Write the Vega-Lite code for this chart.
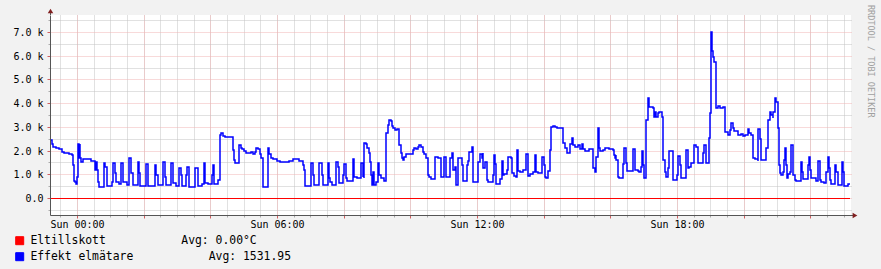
{
  "$schema": "https://vega.github.io/schema/vega-lite/v6.json",
  "width": 801,
  "height": 200,
  "autosize": {"type": "none"},
  "padding": {"left": 50, "top": 15, "right": 30, "bottom": 54},
  "background": "#F2F2F2",
  "config": {
    "font": "DejaVu Sans Mono",
    "view": {"stroke": null, "fill": "#FFFFFF"},
    "axis": {"labelFont": "DejaVu Sans Mono", "labelColor": "#000000", "title": null}
  },
  "title": {
    "text": "RRDTOOL / TOBI OETIKER",
    "orient": "right",
    "anchor": "start",
    "frame": "group",
    "angle": 90,
    "font": "DejaVu Sans Mono",
    "fontSize": 8.5,
    "fontWeight": "normal",
    "color": "#A0A0A0",
    "offset": 9,
    "dx": -10
  },
  "datasets": {
    "elt": [
      {"t": "2024-01-06T23:13", "v": 0},
      {"t": "2024-01-07T23:11", "v": 0}
    ],
    "effekt": [
      {"t": "2024-01-06T23:13", "v": 2450},
      {"t": "2024-01-06T23:15", "v": 2270},
      {"t": "2024-01-06T23:16", "v": 2140},
      {"t": "2024-01-06T23:23", "v": 2100},
      {"t": "2024-01-06T23:27", "v": 2050},
      {"t": "2024-01-06T23:33", "v": 1950},
      {"t": "2024-01-06T23:37", "v": 1880},
      {"t": "2024-01-06T23:45", "v": 1860},
      {"t": "2024-01-06T23:51", "v": 1810},
      {"t": "2024-01-06T23:53", "v": 1390},
      {"t": "2024-01-06T23:55", "v": 720},
      {"t": "2024-01-06T23:57", "v": 660},
      {"t": "2024-01-06T23:59", "v": 580},
      {"t": "2024-01-07T00:00", "v": 900},
      {"t": "2024-01-07T00:02", "v": 2270},
      {"t": "2024-01-07T00:04", "v": 1670},
      {"t": "2024-01-07T00:05", "v": 2270},
      {"t": "2024-01-07T00:06", "v": 1670},
      {"t": "2024-01-07T00:08", "v": 1530},
      {"t": "2024-01-07T00:10", "v": 1650},
      {"t": "2024-01-07T00:26", "v": 1560},
      {"t": "2024-01-07T00:32", "v": 1500},
      {"t": "2024-01-07T00:33", "v": 1180},
      {"t": "2024-01-07T00:34", "v": 1500},
      {"t": "2024-01-07T00:36", "v": 1180},
      {"t": "2024-01-07T00:37", "v": 660},
      {"t": "2024-01-07T00:39", "v": 450},
      {"t": "2024-01-07T00:49", "v": 1460},
      {"t": "2024-01-07T00:51", "v": 1320},
      {"t": "2024-01-07T00:54", "v": 520},
      {"t": "2024-01-07T01:03", "v": 660},
      {"t": "2024-01-07T01:05", "v": 1460},
      {"t": "2024-01-07T01:08", "v": 1040},
      {"t": "2024-01-07T01:11", "v": 660},
      {"t": "2024-01-07T01:15", "v": 580},
      {"t": "2024-01-07T01:20", "v": 1460},
      {"t": "2024-01-07T01:22", "v": 660},
      {"t": "2024-01-07T01:30", "v": 550},
      {"t": "2024-01-07T01:34", "v": 1670},
      {"t": "2024-01-07T01:38", "v": 1040},
      {"t": "2024-01-07T01:41", "v": 550},
      {"t": "2024-01-07T01:50", "v": 1530},
      {"t": "2024-01-07T01:52", "v": 1040},
      {"t": "2024-01-07T01:54", "v": 520},
      {"t": "2024-01-07T02:04", "v": 1430},
      {"t": "2024-01-07T02:07", "v": 970},
      {"t": "2024-01-07T02:08", "v": 520},
      {"t": "2024-01-07T02:20", "v": 1390},
      {"t": "2024-01-07T02:22", "v": 970},
      {"t": "2024-01-07T02:25", "v": 550},
      {"t": "2024-01-07T02:35", "v": 1530},
      {"t": "2024-01-07T02:38", "v": 900},
      {"t": "2024-01-07T02:41", "v": 550},
      {"t": "2024-01-07T02:50", "v": 1460},
      {"t": "2024-01-07T02:52", "v": 620},
      {"t": "2024-01-07T02:59", "v": 520},
      {"t": "2024-01-07T03:04", "v": 1280},
      {"t": "2024-01-07T03:07", "v": 970},
      {"t": "2024-01-07T03:09", "v": 520},
      {"t": "2024-01-07T03:16", "v": 970},
      {"t": "2024-01-07T03:18", "v": 1320},
      {"t": "2024-01-07T03:21", "v": 660},
      {"t": "2024-01-07T03:22", "v": 450},
      {"t": "2024-01-07T03:33", "v": 1280},
      {"t": "2024-01-07T03:37", "v": 520},
      {"t": "2024-01-07T03:45", "v": 580},
      {"t": "2024-01-07T03:49", "v": 1460},
      {"t": "2024-01-07T03:51", "v": 620},
      {"t": "2024-01-07T03:56", "v": 580},
      {"t": "2024-01-07T04:03", "v": 970},
      {"t": "2024-01-07T04:05", "v": 1390},
      {"t": "2024-01-07T04:07", "v": 580},
      {"t": "2024-01-07T04:14", "v": 760},
      {"t": "2024-01-07T04:17", "v": 2660},
      {"t": "2024-01-07T04:20", "v": 2730},
      {"t": "2024-01-07T04:23", "v": 2630},
      {"t": "2024-01-07T04:26", "v": 2560},
      {"t": "2024-01-07T04:40", "v": 2030},
      {"t": "2024-01-07T04:43", "v": 1600},
      {"t": "2024-01-07T04:45", "v": 1460},
      {"t": "2024-01-07T04:51", "v": 2240},
      {"t": "2024-01-07T04:55", "v": 2100},
      {"t": "2024-01-07T04:57", "v": 2050},
      {"t": "2024-01-07T05:00", "v": 1980},
      {"t": "2024-01-07T05:05", "v": 1880},
      {"t": "2024-01-07T05:14", "v": 1950},
      {"t": "2024-01-07T05:16", "v": 1840},
      {"t": "2024-01-07T05:20", "v": 1950},
      {"t": "2024-01-07T05:22", "v": 2100},
      {"t": "2024-01-07T05:26", "v": 2050},
      {"t": "2024-01-07T05:29", "v": 1840},
      {"t": "2024-01-07T05:32", "v": 1670},
      {"t": "2024-01-07T05:34", "v": 480},
      {"t": "2024-01-07T05:44", "v": 2100},
      {"t": "2024-01-07T05:46", "v": 1840},
      {"t": "2024-01-07T05:49", "v": 1670},
      {"t": "2024-01-07T05:52", "v": 1650},
      {"t": "2024-01-07T06:00", "v": 1560},
      {"t": "2024-01-07T06:06", "v": 1510},
      {"t": "2024-01-07T06:21", "v": 1560},
      {"t": "2024-01-07T06:28", "v": 1650},
      {"t": "2024-01-07T06:40", "v": 1560},
      {"t": "2024-01-07T06:46", "v": 1390},
      {"t": "2024-01-07T06:49", "v": 1180},
      {"t": "2024-01-07T06:51", "v": 520},
      {"t": "2024-01-07T07:01", "v": 1460},
      {"t": "2024-01-07T07:04", "v": 970},
      {"t": "2024-01-07T07:06", "v": 550},
      {"t": "2024-01-07T07:16", "v": 1460},
      {"t": "2024-01-07T07:21", "v": 970},
      {"t": "2024-01-07T07:22", "v": 550},
      {"t": "2024-01-07T07:31", "v": 1460},
      {"t": "2024-01-07T07:34", "v": 830},
      {"t": "2024-01-07T07:35", "v": 690},
      {"t": "2024-01-07T07:39", "v": 550},
      {"t": "2024-01-07T07:46", "v": 1530},
      {"t": "2024-01-07T07:49", "v": 1320},
      {"t": "2024-01-07T07:51", "v": 620},
      {"t": "2024-01-07T07:58", "v": 970},
      {"t": "2024-01-07T08:01", "v": 1420},
      {"t": "2024-01-07T08:04", "v": 830},
      {"t": "2024-01-07T08:06", "v": 720},
      {"t": "2024-01-07T08:16", "v": 1650},
      {"t": "2024-01-07T08:19", "v": 900},
      {"t": "2024-01-07T08:24", "v": 860},
      {"t": "2024-01-07T08:32", "v": 1460},
      {"t": "2024-01-07T08:34", "v": 900},
      {"t": "2024-01-07T08:35", "v": 1460},
      {"t": "2024-01-07T08:36", "v": 860},
      {"t": "2024-01-07T08:37", "v": 2310},
      {"t": "2024-01-07T08:40", "v": 2260},
      {"t": "2024-01-07T08:42", "v": 2100},
      {"t": "2024-01-07T08:45", "v": 1880},
      {"t": "2024-01-07T08:47", "v": 1530},
      {"t": "2024-01-07T08:49", "v": 970},
      {"t": "2024-01-07T08:51", "v": 550},
      {"t": "2024-01-07T08:53", "v": 1110},
      {"t": "2024-01-07T08:55", "v": 550},
      {"t": "2024-01-07T08:58", "v": 660},
      {"t": "2024-01-07T09:01", "v": 1460},
      {"t": "2024-01-07T09:04", "v": 990},
      {"t": "2024-01-07T09:07", "v": 830},
      {"t": "2024-01-07T09:13", "v": 720},
      {"t": "2024-01-07T09:16", "v": 2730},
      {"t": "2024-01-07T09:19", "v": 3080},
      {"t": "2024-01-07T09:22", "v": 3290},
      {"t": "2024-01-07T09:25", "v": 3250},
      {"t": "2024-01-07T09:27", "v": 3050},
      {"t": "2024-01-07T09:29", "v": 2940},
      {"t": "2024-01-07T09:33", "v": 2870},
      {"t": "2024-01-07T09:36", "v": 2900},
      {"t": "2024-01-07T09:39", "v": 2800},
      {"t": "2024-01-07T09:40", "v": 2240},
      {"t": "2024-01-07T09:43", "v": 1880},
      {"t": "2024-01-07T09:45", "v": 1700},
      {"t": "2024-01-07T09:46", "v": 1600},
      {"t": "2024-01-07T09:48", "v": 1740},
      {"t": "2024-01-07T09:52", "v": 1840},
      {"t": "2024-01-07T10:04", "v": 2030},
      {"t": "2024-01-07T10:07", "v": 2100},
      {"t": "2024-01-07T10:10", "v": 2070},
      {"t": "2024-01-07T10:13", "v": 2170},
      {"t": "2024-01-07T10:16", "v": 2240},
      {"t": "2024-01-07T10:19", "v": 2170},
      {"t": "2024-01-07T10:22", "v": 1930},
      {"t": "2024-01-07T10:25", "v": 1840},
      {"t": "2024-01-07T10:28", "v": 1670},
      {"t": "2024-01-07T10:31", "v": 970},
      {"t": "2024-01-07T10:34", "v": 900},
      {"t": "2024-01-07T10:37", "v": 790},
      {"t": "2024-01-07T10:44", "v": 1740},
      {"t": "2024-01-07T10:49", "v": 1700},
      {"t": "2024-01-07T10:55", "v": 900},
      {"t": "2024-01-07T11:01", "v": 1740},
      {"t": "2024-01-07T11:04", "v": 900},
      {"t": "2024-01-07T11:11", "v": 1670},
      {"t": "2024-01-07T11:15", "v": 1880},
      {"t": "2024-01-07T11:17", "v": 1180},
      {"t": "2024-01-07T11:20", "v": 1320},
      {"t": "2024-01-07T11:22", "v": 550},
      {"t": "2024-01-07T11:26", "v": 1700},
      {"t": "2024-01-07T11:33", "v": 1390},
      {"t": "2024-01-07T11:34", "v": 720},
      {"t": "2024-01-07T11:42", "v": 1390},
      {"t": "2024-01-07T11:44", "v": 1560},
      {"t": "2024-01-07T11:46", "v": 1950},
      {"t": "2024-01-07T11:51", "v": 2170},
      {"t": "2024-01-07T11:52", "v": 1740},
      {"t": "2024-01-07T11:53", "v": 690},
      {"t": "2024-01-07T12:02", "v": 1530},
      {"t": "2024-01-07T12:05", "v": 1840},
      {"t": "2024-01-07T12:09", "v": 1700},
      {"t": "2024-01-07T12:10", "v": 1880},
      {"t": "2024-01-07T12:11", "v": 1250},
      {"t": "2024-01-07T12:14", "v": 1510},
      {"t": "2024-01-07T12:18", "v": 760},
      {"t": "2024-01-07T12:20", "v": 660},
      {"t": "2024-01-07T12:28", "v": 970},
      {"t": "2024-01-07T12:31", "v": 1810},
      {"t": "2024-01-07T12:32", "v": 1420},
      {"t": "2024-01-07T12:34", "v": 590},
      {"t": "2024-01-07T12:41", "v": 800},
      {"t": "2024-01-07T12:45", "v": 1560},
      {"t": "2024-01-07T12:46", "v": 970},
      {"t": "2024-01-07T12:49", "v": 1000},
      {"t": "2024-01-07T12:54", "v": 1180},
      {"t": "2024-01-07T12:56", "v": 1740},
      {"t": "2024-01-07T13:01", "v": 1700},
      {"t": "2024-01-07T13:03", "v": 1040},
      {"t": "2024-01-07T13:07", "v": 940},
      {"t": "2024-01-07T13:10", "v": 900},
      {"t": "2024-01-07T13:12", "v": 2030},
      {"t": "2024-01-07T13:14", "v": 1140},
      {"t": "2024-01-07T13:17", "v": 1080},
      {"t": "2024-01-07T13:23", "v": 1180},
      {"t": "2024-01-07T13:28", "v": 1840},
      {"t": "2024-01-07T13:31", "v": 1040},
      {"t": "2024-01-07T13:32", "v": 940},
      {"t": "2024-01-07T13:35", "v": 1000},
      {"t": "2024-01-07T13:41", "v": 1080},
      {"t": "2024-01-07T13:44", "v": 1810},
      {"t": "2024-01-07T13:46", "v": 1080},
      {"t": "2024-01-07T13:49", "v": 1040},
      {"t": "2024-01-07T13:57", "v": 1740},
      {"t": "2024-01-07T14:01", "v": 1390},
      {"t": "2024-01-07T14:02", "v": 900},
      {"t": "2024-01-07T14:04", "v": 830},
      {"t": "2024-01-07T14:07", "v": 970},
      {"t": "2024-01-07T14:08", "v": 1140},
      {"t": "2024-01-07T14:11", "v": 2030},
      {"t": "2024-01-07T14:13", "v": 3010},
      {"t": "2024-01-07T14:17", "v": 3050},
      {"t": "2024-01-07T14:20", "v": 3010},
      {"t": "2024-01-07T14:24", "v": 2970},
      {"t": "2024-01-07T14:35", "v": 2310},
      {"t": "2024-01-07T14:38", "v": 2120},
      {"t": "2024-01-07T14:42", "v": 1880},
      {"t": "2024-01-07T14:47", "v": 2270},
      {"t": "2024-01-07T14:51", "v": 2520},
      {"t": "2024-01-07T14:52", "v": 2240},
      {"t": "2024-01-07T14:56", "v": 2170},
      {"t": "2024-01-07T15:02", "v": 2240},
      {"t": "2024-01-07T15:05", "v": 2070},
      {"t": "2024-01-07T15:09", "v": 2270},
      {"t": "2024-01-07T15:11", "v": 2070},
      {"t": "2024-01-07T15:14", "v": 1980},
      {"t": "2024-01-07T15:22", "v": 2050},
      {"t": "2024-01-07T15:28", "v": 1950},
      {"t": "2024-01-07T15:29", "v": 1250},
      {"t": "2024-01-07T15:32", "v": 1110},
      {"t": "2024-01-07T15:35", "v": 1740},
      {"t": "2024-01-07T15:37", "v": 2940},
      {"t": "2024-01-07T15:39", "v": 2100},
      {"t": "2024-01-07T15:41", "v": 1980},
      {"t": "2024-01-07T15:46", "v": 2030},
      {"t": "2024-01-07T15:50", "v": 2100},
      {"t": "2024-01-07T15:58", "v": 2070},
      {"t": "2024-01-07T16:04", "v": 2030},
      {"t": "2024-01-07T16:07", "v": 1810},
      {"t": "2024-01-07T16:08", "v": 1670},
      {"t": "2024-01-07T16:10", "v": 1810},
      {"t": "2024-01-07T16:11", "v": 1600},
      {"t": "2024-01-07T16:13", "v": 900},
      {"t": "2024-01-07T16:16", "v": 830},
      {"t": "2024-01-07T16:23", "v": 1420},
      {"t": "2024-01-07T16:25", "v": 2100},
      {"t": "2024-01-07T16:28", "v": 1460},
      {"t": "2024-01-07T16:30", "v": 1140},
      {"t": "2024-01-07T16:40", "v": 2070},
      {"t": "2024-01-07T16:44", "v": 1180},
      {"t": "2024-01-07T16:49", "v": 1140},
      {"t": "2024-01-07T16:52", "v": 1080},
      {"t": "2024-01-07T16:55", "v": 1320},
      {"t": "2024-01-07T16:57", "v": 1980},
      {"t": "2024-01-07T16:59", "v": 1390},
      {"t": "2024-01-07T17:01", "v": 860},
      {"t": "2024-01-07T17:04", "v": 3080},
      {"t": "2024-01-07T17:05", "v": 3290},
      {"t": "2024-01-07T17:07", "v": 3780},
      {"t": "2024-01-07T17:08", "v": 4210},
      {"t": "2024-01-07T17:10", "v": 3850},
      {"t": "2024-01-07T17:16", "v": 3780},
      {"t": "2024-01-07T17:19", "v": 3430},
      {"t": "2024-01-07T17:20", "v": 3640},
      {"t": "2024-01-07T17:22", "v": 3400},
      {"t": "2024-01-07T17:25", "v": 3570},
      {"t": "2024-01-07T17:28", "v": 3610},
      {"t": "2024-01-07T17:31", "v": 3640},
      {"t": "2024-01-07T17:33", "v": 3430},
      {"t": "2024-01-07T17:35", "v": 1600},
      {"t": "2024-01-07T17:38", "v": 1110},
      {"t": "2024-01-07T17:40", "v": 900},
      {"t": "2024-01-07T17:43", "v": 1250},
      {"t": "2024-01-07T17:46", "v": 1980},
      {"t": "2024-01-07T17:52", "v": 1700},
      {"t": "2024-01-07T17:53", "v": 760},
      {"t": "2024-01-07T18:00", "v": 970},
      {"t": "2024-01-07T18:02", "v": 1790},
      {"t": "2024-01-07T18:05", "v": 1390},
      {"t": "2024-01-07T18:08", "v": 830},
      {"t": "2024-01-07T18:16", "v": 2030},
      {"t": "2024-01-07T18:19", "v": 1250},
      {"t": "2024-01-07T18:22", "v": 1320},
      {"t": "2024-01-07T18:25", "v": 1460},
      {"t": "2024-01-07T18:31", "v": 2240},
      {"t": "2024-01-07T18:34", "v": 2170},
      {"t": "2024-01-07T18:37", "v": 1460},
      {"t": "2024-01-07T18:47", "v": 1880},
      {"t": "2024-01-07T18:49", "v": 2240},
      {"t": "2024-01-07T18:52", "v": 1460},
      {"t": "2024-01-07T18:58", "v": 2520},
      {"t": "2024-01-07T18:59", "v": 3570},
      {"t": "2024-01-07T19:02", "v": 7000},
      {"t": "2024-01-07T19:03", "v": 6200},
      {"t": "2024-01-07T19:04", "v": 5960},
      {"t": "2024-01-07T19:07", "v": 5750},
      {"t": "2024-01-07T19:10", "v": 3780},
      {"t": "2024-01-07T19:14", "v": 3880},
      {"t": "2024-01-07T19:17", "v": 3810},
      {"t": "2024-01-07T19:23", "v": 3850},
      {"t": "2024-01-07T19:27", "v": 2800},
      {"t": "2024-01-07T19:31", "v": 2660},
      {"t": "2024-01-07T19:35", "v": 2870},
      {"t": "2024-01-07T19:38", "v": 3150},
      {"t": "2024-01-07T19:40", "v": 2970},
      {"t": "2024-01-07T19:43", "v": 2830},
      {"t": "2024-01-07T19:50", "v": 2660},
      {"t": "2024-01-07T19:56", "v": 2690},
      {"t": "2024-01-07T19:59", "v": 2620},
      {"t": "2024-01-07T20:02", "v": 2660},
      {"t": "2024-01-07T20:07", "v": 2900},
      {"t": "2024-01-07T20:09", "v": 2750},
      {"t": "2024-01-07T20:13", "v": 2660},
      {"t": "2024-01-07T20:16", "v": 2590},
      {"t": "2024-01-07T20:17", "v": 1700},
      {"t": "2024-01-07T20:20", "v": 1640},
      {"t": "2024-01-07T20:25", "v": 1560},
      {"t": "2024-01-07T20:26", "v": 2900},
      {"t": "2024-01-07T20:29", "v": 2500},
      {"t": "2024-01-07T20:31", "v": 1600},
      {"t": "2024-01-07T20:41", "v": 2100},
      {"t": "2024-01-07T20:43", "v": 2690},
      {"t": "2024-01-07T20:44", "v": 3290},
      {"t": "2024-01-07T20:47", "v": 3640},
      {"t": "2024-01-07T20:50", "v": 3500},
      {"t": "2024-01-07T20:52", "v": 3360},
      {"t": "2024-01-07T20:53", "v": 3640},
      {"t": "2024-01-07T20:56", "v": 4210},
      {"t": "2024-01-07T20:59", "v": 4060},
      {"t": "2024-01-07T21:01", "v": 3360},
      {"t": "2024-01-07T21:02", "v": 2940},
      {"t": "2024-01-07T21:04", "v": 1390},
      {"t": "2024-01-07T21:05", "v": 1040},
      {"t": "2024-01-07T21:08", "v": 970},
      {"t": "2024-01-07T21:11", "v": 1080},
      {"t": "2024-01-07T21:13", "v": 1600},
      {"t": "2024-01-07T21:14", "v": 2100},
      {"t": "2024-01-07T21:16", "v": 1390},
      {"t": "2024-01-07T21:18", "v": 840},
      {"t": "2024-01-07T21:20", "v": 1000},
      {"t": "2024-01-07T21:23", "v": 1110},
      {"t": "2024-01-07T21:26", "v": 2240},
      {"t": "2024-01-07T21:29", "v": 970},
      {"t": "2024-01-07T21:32", "v": 760},
      {"t": "2024-01-07T21:35", "v": 720},
      {"t": "2024-01-07T21:43", "v": 1530},
      {"t": "2024-01-07T21:45", "v": 1110},
      {"t": "2024-01-07T21:47", "v": 790},
      {"t": "2024-01-07T21:56", "v": 1390},
      {"t": "2024-01-07T21:57", "v": 1740},
      {"t": "2024-01-07T21:59", "v": 1180},
      {"t": "2024-01-07T22:02", "v": 840},
      {"t": "2024-01-07T22:11", "v": 720},
      {"t": "2024-01-07T22:14", "v": 1560},
      {"t": "2024-01-07T22:17", "v": 760},
      {"t": "2024-01-07T22:20", "v": 690},
      {"t": "2024-01-07T22:25", "v": 650},
      {"t": "2024-01-07T22:29", "v": 1110},
      {"t": "2024-01-07T22:31", "v": 1740},
      {"t": "2024-01-07T22:33", "v": 1250},
      {"t": "2024-01-07T22:35", "v": 760},
      {"t": "2024-01-07T22:38", "v": 580},
      {"t": "2024-01-07T22:44", "v": 1390},
      {"t": "2024-01-07T22:46", "v": 1080},
      {"t": "2024-01-07T22:49", "v": 550},
      {"t": "2024-01-07T22:57", "v": 1530},
      {"t": "2024-01-07T22:59", "v": 1080},
      {"t": "2024-01-07T23:01", "v": 510},
      {"t": "2024-01-07T23:08", "v": 580},
      {"t": "2024-01-07T23:11", "v": 600}
    ]
  },
  "layer": [
    {
      "data": {"name": "elt"},
      "mark": {"type": "line", "strokeWidth": 1, "interpolate": "linear", "yOffset": 0.5},
      "encoding": {
        "x": {
          "field": "t", "type": "temporal",
          "scale": {"round": true, "domain": [{"year": 2024, "month": 1, "date": 6, "hours": 23, "minutes": 11, "seconds": 24}, {"year": 2024, "month": 1, "date": 7, "hours": 23, "minutes": 13, "seconds": 12}]},
          "axis": {"orient": "bottom", "values": [
            {"year": 2024, "month": 1, "date": 6, "hours": 23, "minutes": 30},
            {"year": 2024, "month": 1, "date": 7, "hours": 0, "minutes": 0},
            {"year": 2024, "month": 1, "date": 7, "hours": 0, "minutes": 30},
            {"year": 2024, "month": 1, "date": 7, "hours": 1, "minutes": 0},
            {"year": 2024, "month": 1, "date": 7, "hours": 1, "minutes": 30},
            {"year": 2024, "month": 1, "date": 7, "hours": 2, "minutes": 0},
            {"year": 2024, "month": 1, "date": 7, "hours": 2, "minutes": 30},
            {"year": 2024, "month": 1, "date": 7, "hours": 3, "minutes": 0},
            {"year": 2024, "month": 1, "date": 7, "hours": 3, "minutes": 30},
            {"year": 2024, "month": 1, "date": 7, "hours": 4, "minutes": 0},
            {"year": 2024, "month": 1, "date": 7, "hours": 4, "minutes": 30},
            {"year": 2024, "month": 1, "date": 7, "hours": 5, "minutes": 0},
            {"year": 2024, "month": 1, "date": 7, "hours": 5, "minutes": 30},
            {"year": 2024, "month": 1, "date": 7, "hours": 6, "minutes": 0},
            {"year": 2024, "month": 1, "date": 7, "hours": 6, "minutes": 30},
            {"year": 2024, "month": 1, "date": 7, "hours": 7, "minutes": 0},
            {"year": 2024, "month": 1, "date": 7, "hours": 7, "minutes": 30},
            {"year": 2024, "month": 1, "date": 7, "hours": 8, "minutes": 0},
            {"year": 2024, "month": 1, "date": 7, "hours": 8, "minutes": 30},
            {"year": 2024, "month": 1, "date": 7, "hours": 9, "minutes": 0},
            {"year": 2024, "month": 1, "date": 7, "hours": 9, "minutes": 30},
            {"year": 2024, "month": 1, "date": 7, "hours": 10, "minutes": 0},
            {"year": 2024, "month": 1, "date": 7, "hours": 10, "minutes": 30},
            {"year": 2024, "month": 1, "date": 7, "hours": 11, "minutes": 0},
            {"year": 2024, "month": 1, "date": 7, "hours": 11, "minutes": 30},
            {"year": 2024, "month": 1, "date": 7, "hours": 12, "minutes": 0},
            {"year": 2024, "month": 1, "date": 7, "hours": 12, "minutes": 30},
            {"year": 2024, "month": 1, "date": 7, "hours": 13, "minutes": 0},
            {"year": 2024, "month": 1, "date": 7, "hours": 13, "minutes": 30},
            {"year": 2024, "month": 1, "date": 7, "hours": 14, "minutes": 0},
            {"year": 2024, "month": 1, "date": 7, "hours": 14, "minutes": 30},
            {"year": 2024, "month": 1, "date": 7, "hours": 15, "minutes": 0},
            {"year": 2024, "month": 1, "date": 7, "hours": 15, "minutes": 30},
            {"year": 2024, "month": 1, "date": 7, "hours": 16, "minutes": 0},
            {"year": 2024, "month": 1, "date": 7, "hours": 16, "minutes": 30},
            {"year": 2024, "month": 1, "date": 7, "hours": 17, "minutes": 0},
            {"year": 2024, "month": 1, "date": 7, "hours": 17, "minutes": 30},
            {"year": 2024, "month": 1, "date": 7, "hours": 18, "minutes": 0},
            {"year": 2024, "month": 1, "date": 7, "hours": 18, "minutes": 30},
            {"year": 2024, "month": 1, "date": 7, "hours": 19, "minutes": 0},
            {"year": 2024, "month": 1, "date": 7, "hours": 19, "minutes": 30},
            {"year": 2024, "month": 1, "date": 7, "hours": 20, "minutes": 0},
            {"year": 2024, "month": 1, "date": 7, "hours": 20, "minutes": 30},
            {"year": 2024, "month": 1, "date": 7, "hours": 21, "minutes": 0},
            {"year": 2024, "month": 1, "date": 7, "hours": 21, "minutes": 30},
            {"year": 2024, "month": 1, "date": 7, "hours": 22, "minutes": 0},
            {"year": 2024, "month": 1, "date": 7, "hours": 22, "minutes": 30},
            {"year": 2024, "month": 1, "date": 7, "hours": 23, "minutes": 0}
          ], "grid": true, "gridColor": "#C2C2C2", "gridDash": [1, 1], "labels": false, "domain": false, "ticks": true, "tickColor": "#ABABAB", "tickSize": 2, "title": null}
        },
        "y": {
          "field": "v", "type": "quantitative",
          "scale": {"round": true, "domain": [-717, 7717], "nice": false, "zero": false},
          "axis": {"orient": "left", "values": [-500, 500, 1500, 2500, 3500, 4500, 5500, 6500, 7500], "grid": true, "gridColor": "#C2C2C2", "gridDash": [1, 1], "labels": false, "domain": false, "ticks": true, "tickColor": "#ABABAB", "tickSize": 2, "title": null}
        },
        "color": {
          "datum": "Eltillskott", "type": "nominal",
          "scale": {"domain": ["Eltillskott", "Effekt elmätare"], "range": ["#FF0000", "#0000FF"]},
          "legend": {
            "orient": "none", "legendX": -36, "legendY": 220, "title": null, "direction": "vertical",
            "padding": 0, "symbolType": "square", "symbolSize": 64, "symbolStrokeWidth": 1,
            "labelFont": "DejaVu Sans Mono", "labelFontSize": 11.4, "labelColor": "#000000", "labelOffset": 5,
            "labelLimit": 500, "rowPadding": 3,
            "labelExpr": "datum.label == 'Eltillskott' ? 'Eltillskott\u00a0\u00a0\u00a0\u00a0\u00a0\u00a0\u00a0\u00a0\u00a0\u00a0\u00a0Avg: 0.00°C' : 'Effekt elmätare\u00a0\u00a0\u00a0\u00a0\u00a0\u00a0\u00a0\u00a0\u00a0\u00a0\u00a0Avg: 1531.95'",
            "encode": {"symbols": {"update": {"fill": {"scale": "color", "field": "value"}, "stroke": {"value": "#000000"}, "strokeWidth": {"value": 1}, "opacity": {"value": 1}}}}
          }
        }
      }
    },
    {
      "data": {"name": "effekt"},
      "mark": {"type": "line", "strokeWidth": 1.5, "interpolate": "step-after"},
      "encoding": {
        "x": {
          "field": "t", "type": "temporal",
          "scale": {"round": true, "domain": [{"year": 2024, "month": 1, "date": 6, "hours": 23, "minutes": 11, "seconds": 24}, {"year": 2024, "month": 1, "date": 7, "hours": 23, "minutes": 13, "seconds": 12}]},
          "axis": {"orient": "bottom", "values": [
            {"year": 2024, "month": 1, "date": 7, "hours": 0},
            {"year": 2024, "month": 1, "date": 7, "hours": 2},
            {"year": 2024, "month": 1, "date": 7, "hours": 4},
            {"year": 2024, "month": 1, "date": 7, "hours": 6},
            {"year": 2024, "month": 1, "date": 7, "hours": 8},
            {"year": 2024, "month": 1, "date": 7, "hours": 10},
            {"year": 2024, "month": 1, "date": 7, "hours": 12},
            {"year": 2024, "month": 1, "date": 7, "hours": 14},
            {"year": 2024, "month": 1, "date": 7, "hours": 16},
            {"year": 2024, "month": 1, "date": 7, "hours": 18},
            {"year": 2024, "month": 1, "date": 7, "hours": 20},
            {"year": 2024, "month": 1, "date": 7, "hours": 22}
          ], "grid": true, "gridColor": "#F0B4B4", "gridDash": [1, 1], "domain": true, "domainColor": "#555555", "ticks": true, "tickColor": "#D06060", "tickSize": 3, "labelFontSize": 10, "labelPadding": 1, "labelOverlap": false, "labelFlush": false, "labelExpr": "hours(datum.value) % 6 == 0 ? timeFormat(datum.value, '%a %H:%M') : ''", "title": null}
        },
        "y": {
          "field": "v", "type": "quantitative",
          "scale": {"round": true, "domain": [-717, 7717], "nice": false, "zero": false},
          "axis": {"orient": "left", "values": [0, 1000, 2000, 3000, 4000, 5000, 6000, 7000], "grid": true, "gridColor": "#F0B4B4", "gridDash": [1, 1], "domain": true, "domainColor": "#555555", "ticks": true, "tickColor": "#D06060", "tickSize": 3, "labelFontSize": 10, "labelPadding": 4, "labelExpr": "datum.value == 0 ? '0.0' : format(datum.value / 1000, '.1f') + ' k'", "title": null}
        },
        "color": {"datum": "Effekt elmätare", "type": "nominal"}
      }
    },
    {
      "data": {"values": [{}]},
      "mark": {"type": "rule", "color": "#555555", "strokeWidth": 1, "xOffset": 0.5},
      "encoding": {
        "x": {"datum": {"year": 2024, "month": 1, "date": 6, "hours": 23, "minutes": 11, "seconds": 24}, "type": "temporal", "axis": null},
        "y": {"datum": 7717, "type": "quantitative", "axis": null},
        "y2": {"datum": 7860}
      }
    },
    {
      "data": {"values": [{}]},
      "mark": {"type": "rule", "color": "#555555", "strokeWidth": 1, "yOffset": 0.5},
      "encoding": {
        "x": {"datum": {"year": 2024, "month": 1, "date": 7, "hours": 23, "minutes": 13, "seconds": 12}, "type": "temporal", "axis": null},
        "x2": {"datum": {"year": 2024, "month": 1, "date": 7, "hours": 23, "minutes": 19}},
        "y": {"datum": -717, "type": "quantitative", "axis": null}
      }
    },
    {
      "data": {"values": [{}]},
      "mark": {"type": "point", "shape": "triangle-up", "filled": true, "size": 30, "color": "#801F1F", "opacity": 1, "xOffset": 0.5},
      "encoding": {
        "x": {"datum": {"year": 2024, "month": 1, "date": 6, "hours": 23, "minutes": 11, "seconds": 24}, "type": "temporal", "axis": null},
        "y": {"datum": 7865, "type": "quantitative", "axis": null}
      }
    },
    {
      "data": {"values": [{}]},
      "mark": {"type": "point", "shape": "triangle-right", "filled": true, "size": 30, "color": "#801F1F", "opacity": 1, "yOffset": 0.5},
      "encoding": {
        "x": {"datum": {"year": 2024, "month": 1, "date": 7, "hours": 23, "minutes": 20}, "type": "temporal", "axis": null},
        "y": {"datum": -717, "type": "quantitative", "axis": null}
      }
    }
  ],
  "resolve": {"axis": {"x": "independent", "y": "independent"}}
}
